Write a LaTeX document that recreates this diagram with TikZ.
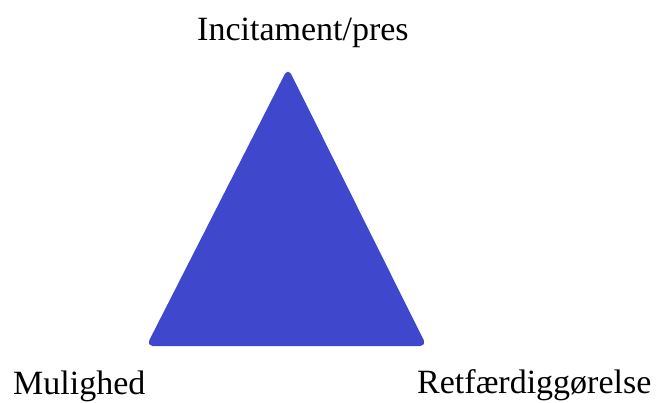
\documentclass[tikz,border=0pt]{standalone}
\usepackage{fontspec}
\setmainfont{Liberation Serif}
\definecolor{triblue}{HTML}{3F48CC}
\begin{document}
\begin{tikzpicture}[x=1pt,y=-1pt,
  lbl/.style={inner sep=0pt, font=\fontsize{34}{40}\selectfont, text=black},
  tri/.style={fill=triblue, draw=triblue, line width=2pt, line join=round, rounded corners=5pt}]
\useasboundingbox[fill=white] (0,0) rectangle (658,403);
\coordinate (A) at (288,70);
\coordinate (B) at (148,345);
\coordinate (C) at (425,345);
\path[tri] (A) -- (B) -- (C) -- cycle;
\node[lbl, anchor=base west] (top) at (197,41) {Incitament/pres};
\node[lbl, anchor=base west] (left) at (13,394) {Mulighed};
\node[lbl, anchor=base west] (right) at (417,393) {Retfærdiggørelse};
\end{tikzpicture}
\end{document}
